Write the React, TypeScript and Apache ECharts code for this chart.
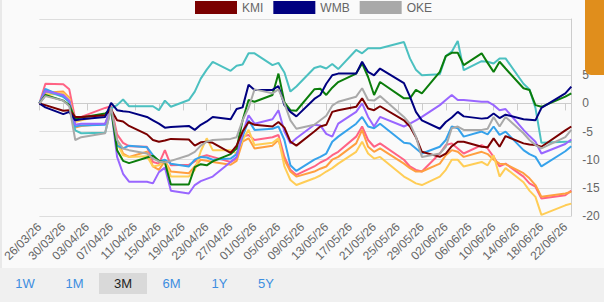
import React, { useEffect, useRef } from "react";
import * as echarts from "echarts";

// Trading days shown (dd/mm/yy)
const tradingDays = [
  "26/03/26","27/03/26","30/03/26","31/03/26","01/04/26","02/04/26",
  "06/04/26","07/04/26","08/04/26","09/04/26","10/04/26",
  "13/04/26","14/04/26","15/04/26","16/04/26","17/04/26",
  "20/04/26","21/04/26","22/04/26","23/04/26","24/04/26",
  "27/04/26","28/04/26","29/04/26","30/04/26","01/05/26",
  "04/05/26","05/05/26","06/05/26","07/05/26","08/05/26",
  "11/05/26","12/05/26","13/05/26","14/05/26","15/05/26",
  "18/05/26","19/05/26","20/05/26","21/05/26","22/05/26",
  "26/05/26","27/05/26","28/05/26","29/05/26",
  "01/06/26","02/06/26","03/06/26","04/06/26","05/06/26",
  "08/06/26","09/06/26","10/06/26","11/06/26","12/06/26",
  "15/06/26","16/06/26","17/06/26","18/06/26",
  "22/06/26","23/06/26",
];

// % change series (one value per trading day)
const kmi = [0,-0.3,-1.3,-1.2,-2.4,-2.4,-2.1,-1.1,-3.0,-3.2,-4.0,-5.5,-6.5,-6.8,-6.6,-6.3,-6.4,-7.5,-6.9,-6.8,-7.0,-8.8,-7.5,-5.0,-3.3,-3.8,-4.1,-3.3,-4.3,-6.8,-7.5,-5.0,-4.1,-3.8,-1.5,-1.2,-0.6,0.9,-0.9,-1.2,-0.5,-3.0,-4.1,-6.0,-8.6,-9.5,-8.9,-7.6,-6.8,-6.8,-7.7,-7.8,-6.2,-7.7,-5.8,-7.1,-7.3,-7.4,-7.7,-4.8,-4.1];
const wmb = [0,-0.7,-1.9,-1.5,-3.0,-2.8,-2.4,0.1,-1.2,-1.4,-1.5,-2.4,-3.0,-3.6,-4.3,-4.2,-4.0,-4.7,-3.8,-3.2,-2.4,-2.8,-1.0,-0.7,3.3,2.4,2.4,3.1,-0.3,-1.5,-2.3,0.8,1.5,3.5,5.0,5.3,5.3,7.4,5.6,5.0,6.2,3.6,1.2,-1.5,-3.0,-4.5,-3.3,-2.5,-1.5,-2.3,-2.7,-2.6,-1.8,-2.6,-2.0,-2.8,-2.9,-3.0,-0.8,1.8,3.0];
const oke = [0,1.3,0.5,-0.5,-6.5,-6.0,-5.3,-0.8,-6.5,-8.0,-8.3,-8.9,-9.8,-10.3,-10.5,-10.2,-9.2,-8.6,-7.5,-6.8,-6.5,-6.3,-6.0,-3.0,-0.8,2.5,1.8,2.5,0.0,-3.0,-4.5,-3.8,-3.0,-2.2,-0.4,0.3,1.2,2.7,0.6,0.5,1.3,-2.4,-3.6,-5.9,-9.5,-8.9,-7.7,-4.4,-4.1,-4.7,-4.7,-4.5,-2.4,-4.1,-2.4,-5.3,-6.5,-7.4,-8.0,-6.0,-4.7];
const tealS = [0,2.2,1.2,0.3,-4.8,-5.3,-5.2,-0.9,-0.3,0.7,-0.5,-0.5,-0.5,-1.2,0.5,-0.6,0.6,2.1,4.4,6.0,7.4,5.8,6.7,6.9,8.9,8.9,6.8,7.2,5.5,2.1,3.0,6.3,6.6,6.2,7.0,6.1,9.5,8.9,9.8,9.8,9.8,10.9,8.0,6.0,5.0,5.2,8.4,9.2,11.1,5.9,7.5,7.4,7.1,8.0,8.0,3.5,2.5,-0.8,-7.0,-6.8,-6.8];
const greenS = [0,1.5,0.5,-0.3,-2.7,-2.5,-1.8,-1.0,-8.3,-10.2,-10.6,-9.6,-9.3,-10.2,-10.5,-14.4,-14.4,-11.3,-10.8,-11.0,-10.3,-9.0,-8.0,-3.0,0.6,0.3,1.5,5.3,0.2,-1.2,-1.3,2.5,2.6,1.5,2.8,3.8,5.3,7.1,4.7,1.5,3.8,0.9,0.9,2.4,1.8,5.6,8.4,9.0,9.0,6.8,8.9,7.2,5.6,7.4,6.2,2.7,2.4,-0.3,-0.6,1.2,1.8];
const purpleS = [0,2.2,1.5,0.5,-3.8,-3.6,-3.6,-1.0,-9.5,-12.5,-13.9,-13.9,-14.2,-12.2,-11.4,-15.5,-16.0,-14.5,-13.8,-13.4,-13.0,-10.4,-9.5,-5.3,-2.1,-3.6,-2.8,-1.2,-5.0,-7.1,-6.2,-3.8,-3.9,-5.4,-5.9,-3.6,-1.5,0.0,-2.4,-4.1,-2.4,-4.1,-3.6,-3.0,-2.4,-0.3,0.6,1.5,0.6,0.6,0.3,0.3,-0.3,-1.2,-1.0,-4.7,-5.8,-6.8,-8.9,-7.2,-6.4];
const blueS = [0,2.6,1.2,0.3,-4.1,-3.9,-3.8,-0.8,-7.5,-8.0,-7.5,-7.8,-9.2,-10.3,-10.0,-10.7,-11.2,-10.0,-9.5,-9.6,-10.0,-9.8,-9.0,-5.9,-3.0,-4.7,-4.5,-4.1,-6.5,-11.0,-12.0,-10.0,-9.5,-8.9,-6.8,-5.9,-3.6,-2.4,-4.1,-4.4,-3.6,-7.0,-7.1,-8.0,-8.9,-7.7,-6.5,-4.1,-4.4,-5.9,-5.0,-5.5,-4.1,-5.6,-5.0,-8.3,-9.0,-9.5,-11.2,-8.5,-7.6];
const redS = [0,3.5,3.4,2.5,-2.8,-2.4,-0.8,-0.5,-5.5,-7.0,-7.6,-7.7,-10.4,-10.7,-8.3,-11.0,-10.9,-10.3,-9.5,-9.2,-9.5,-10.4,-9.8,-5.9,-5.6,-6.5,-6.0,-5.6,-9.5,-11.8,-12.7,-11.2,-10.5,-10.0,-9.2,-8.6,-5.9,-4.1,-6.5,-7.7,-7.1,-10.0,-11.2,-11.8,-12.1,-8.9,-7.4,-7.1,-8.0,-8.9,-7.4,-8.0,-9.5,-11.2,-10.7,-13.0,-14.2,-14.8,-16.9,-16.3,-15.5];
const orangeS = [0,1.9,2.1,1.0,-4.3,-4.0,-3.6,-1.0,-6.5,-8.9,-9.5,-8.6,-11.2,-11.8,-10.2,-12.1,-12.4,-11.2,-10.0,-10.2,-10.4,-10.9,-10.2,-6.8,-6.2,-8.0,-7.5,-6.5,-10.0,-12.1,-13.0,-12.1,-11.6,-11.2,-10.0,-9.5,-7.1,-4.7,-7.7,-8.6,-8.0,-10.7,-11.5,-12.1,-12.1,-10.7,-9.2,-8.3,-8.6,-9.5,-8.6,-9.0,-10.0,-10.7,-10.8,-12.4,-13.3,-14.5,-16.6,-16.0,-15.7];
const yellowS = [0,1.5,1.8,0.8,-3.3,-3.0,-2.0,-1.2,-7.0,-9.2,-9.5,-9.4,-11.2,-11.0,-10.0,-13.0,-13.0,-11.8,-8.5,-6.2,-8.3,-8.3,-8.9,-6.5,-4.7,-7.4,-7.0,-6.2,-11.2,-13.6,-14.5,-13.3,-12.8,-12.1,-11.5,-10.7,-8.6,-6.8,-8.9,-9.8,-9.5,-13.0,-13.6,-14.2,-14.5,-13.0,-11.8,-10.0,-10.0,-11.2,-10.4,-11.0,-9.2,-13.0,-11.5,-14.0,-15.5,-16.6,-19.8,-18.1,-17.8];

const seriesNames = ["Peer A", "Peer B", "Peer C", "Peer D", "Peer E", "Peer F", "Peer G", "KMI", "WMB", "OKE"];
const seriesColors = ["#ff6384", "#ff9f40", "#ffcd56", "#4bc0c0", "#36a2eb", "#9966ff", "#0b7d0b", "#7a0000", "#000080", "#a9a9a9"];
const seriesValues = [redS, orangeS, yellowS, tealS, blueS, purpleS, greenS, kmi, wmb, oke];
const legendNames = ["KMI", "WMB", "OKE"];

const rangeButtons = ["1W", "1M", "3M", "6M", "1Y", "5Y"];
const activeRange = "3M";

const yTicks = { min: -20, max: 15, step: 5 };
const START_UTC = Date.UTC(2026, 2, 26);
const CALENDAR_DAYS = 90;

function fmtDay(t: number): string {
  const d = new Date(t);
  const dd = String(d.getUTCDate()).padStart(2, "0");
  const mm = String(d.getUTCMonth() + 1).padStart(2, "0");
  const yy = String(d.getUTCFullYear() % 100).padStart(2, "0");
  return `${dd}/${mm}/${yy}`;
}

const FONT = "'Liberation Sans', Arial, Helvetica, sans-serif";

export default function App() {
  const ref = useRef<HTMLDivElement>(null);

  useEffect(() => {
    if (!ref.current) return;
    const chart = echarts.init(ref.current, null, { renderer: "svg" });

    const calendar: string[] = [];
    for (let i = 0; i < CALENDAR_DAYS; i++) calendar.push(fmtDay(START_UTC + i * 86400000));

    const series = seriesNames.map((name, s) => ({
      name,
      type: "line",
      data: calendar.map((c) => {
        const k = tradingDays.indexOf(c);
        return k >= 0 ? seriesValues[s][k] : null;
      }),
      connectNulls: true,
      showSymbol: false,
      symbol: "none",
      lineStyle: { width: 2, color: seriesColors[s] },
      itemStyle: { color: seriesColors[s] },
      z: 2,
    }));

    const buttonCenters = [25, 74.5, 123, 171.5, 219.5, 266];
    const graphics: any[] = [
      { type: "rect", shape: { x: 0, y: 268, width: 604, height: 34 }, style: { fill: "#f0f0f0" }, z: -1 },
      { type: "line", shape: { x1: 1, y1: 0, x2: 1, y2: 268 }, style: { stroke: "#e9e9e9", lineWidth: 2 }, z: -1 },
      { type: "rect", shape: { x: 99, y: 273, width: 48, height: 21 }, style: { fill: "#d9d9d9" }, z: 1 },
      ...rangeButtons.map((b, i) => ({
        type: "text",
        x: buttonCenters[i],
        y: 283.5,
        style: {
          text: b,
          fill: b === activeRange ? "#222222" : "#3d8ee0",
          font: `13px ${FONT}`,
          textAlign: "center",
          textVerticalAlign: "middle",
        },
        z: 2,
      })),
      { type: "rect", shape: { x: 585, y: -10, width: 30, height: 85, r: [0, 0, 0, 6] }, style: { fill: "#e08e1c" }, z: 100 },
    ];

    chart.setOption({
      animation: false,
      backgroundColor: "#fafafa",
      grid: { left: 31.7, right: 32.7, top: 19, bottom: 86, containLabel: false },
      legend: {
        data: legendNames,
        left: 190,
        top: -4,
        icon: "rect",
        itemWidth: 42,
        itemHeight: 13,
        itemGap: 10,
        textStyle: { color: "#666", fontSize: 12, fontFamily: FONT },
        selectedMode: false,
      },
      xAxis: {
        type: "category",
        data: calendar,
        boundaryGap: false,
        axisLine: { show: true, lineStyle: { color: "#cccccc" } },
        axisTick: { show: true, interval: 3, length: 7, lineStyle: { color: "#cccccc" } },
        axisLabel: { interval: 3, rotate: 45, color: "#666", fontSize: 12, fontFamily: FONT, margin: 9 },
        splitLine: { show: false },
      },
      yAxis: {
        type: "value",
        position: "right",
        min: yTicks.min,
        max: yTicks.max,
        interval: yTicks.step,
        axisLine: { show: true, lineStyle: { color: "#cccccc" } },
        axisTick: { show: false },
        axisLabel: {
          color: "#666",
          fontSize: 12,
          fontFamily: FONT,
          margin: 11,
          formatter: (v: number) => (v >= 10 ? "" : String(v)),
        },
        splitLine: { show: true, lineStyle: { color: "#dddddd", width: 1 } },
      },
      graphic: graphics,
      series,
    });

    return () => chart.dispose();
  }, []);

  return (
    <div
      ref={ref}
      style={{ position: "fixed", left: 0, top: 0, width: 604, height: 302, background: "#fafafa" }}
    />
  );
}
